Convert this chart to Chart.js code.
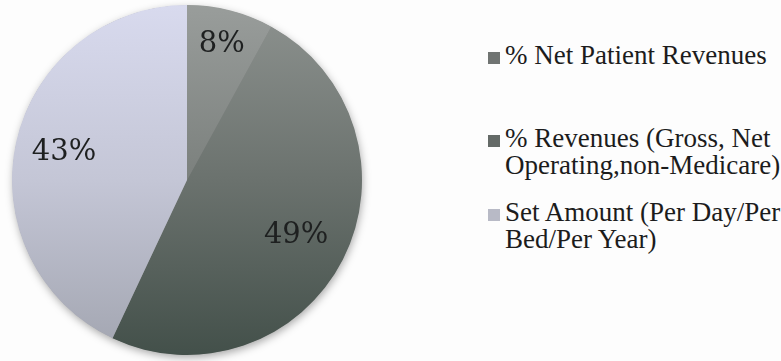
<!DOCTYPE html>
<html>
<head>
<meta charset="utf-8">
<script src="https://cdn.jsdelivr.net/npm/chart.js@4"></script>
<style>
  html, body { margin: 0; padding: 0; background: #fdfdfd; }
  #wrap { position: relative; width: 781px; height: 361px; overflow: hidden; }
  #pieBox { position: absolute; left: 0; top: 0; width: 374px; height: 361px; }
  .lg { position: absolute; left: 488px; font-family: "Liberation Serif", "Times New Roman", serif;
        font-size: 27px; line-height: 27px; color: #1c1c1c; white-space: nowrap; }
  .lg .sw { position: absolute; left: 0; width: 12px; height: 12px; }
  .lg .tx { position: absolute; left: 17px; top: 0; }
</style>
</head>
<body>
<div id="wrap">
  <div id="pieBox"><canvas id="pie"></canvas></div>
  <div id="legend"></div>
</div>
<script>
// Payment basis shares
const categories = [
  "% Net Patient Revenues",
  "% Revenues (Gross, Net\nOperating,non-Medicare)",
  "Set Amount (Per Day/Per\nBed/Per Year)"
];
const shares = [8, 49, 43];
const sliceLabels = ["8%", "49%", "43%"];

// shading stops per slice (top -> bottom)
const sliceShades = [
  ["#999d9b", "#7b807d", "#5c625e"],
  ["#8d928f", "#6b726e", "#43504a"],
  ["#d8daee", "#c4c6d6", "#a2a5b0"]
];
const swatchColors = ["#707472", "#646a67", "#b8bac6"];
const legendTops = [42, 125, 199];

function shade(ctx) {
  const chart = ctx.chart;
  const area = chart.chartArea;
  const stops = sliceShades[ctx.dataIndex];
  if (!area) return stops[1];
  const g = chart.ctx.createLinearGradient(0, area.top, 0, area.bottom);
  g.addColorStop(0, stops[0]);
  g.addColorStop(0.5, stops[1]);
  g.addColorStop(1, stops[2]);
  return g;
}

// soft shadow under the whole disc
const discShadow = {
  id: 'discShadow',
  beforeDatasetsDraw(chart) {
    const arc = chart.getDatasetMeta(0).data[0];
    if (!arc) return;
    const c = chart.ctx;
    c.save();
    c.shadowColor = 'rgba(0,0,0,0.35)';
    c.shadowBlur = 9;
    c.shadowOffsetX = 1;
    c.shadowOffsetY = 3;
    c.fillStyle = '#888';
    c.beginPath();
    c.arc(arc.x, arc.y, arc.outerRadius - 0.5, 0, Math.PI * 2);
    c.fill();
    c.restore();
  }
};

// percentage text placed inside each slice
const sliceText = {
  id: 'sliceText',
  afterDatasetsDraw(chart, args, opts) {
    const c = chart.ctx;
    const meta = chart.getDatasetMeta(0);
    c.save();
    c.font = opts.font;
    c.fillStyle = opts.color;
    c.textAlign = 'center';
    c.textBaseline = 'middle';
    meta.data.forEach((arc, i) => {
      const mid = (arc.startAngle + arc.endAngle) / 2;
      const r = arc.outerRadius * opts.radial[i];
      c.fillText(sliceLabels[i], arc.x + Math.cos(mid) * r, arc.y + Math.sin(mid) * r);
    });
    c.restore();
  }
};

new Chart(document.getElementById('pie'), {
  type: 'pie',
  data: {
    labels: categories,
    datasets: [{
      data: shares,
      backgroundColor: shade,
      borderWidth: 0
    }]
  },
  options: {
    responsive: true,
    maintainAspectRatio: false,
    animation: false,
    layout: { padding: { top: 5, bottom: 6, left: 0, right: 0 } },
    plugins: {
      legend: { display: false },
      tooltip: { enabled: false },
      sliceText: { font: '29px "DejaVu Serif", serif', color: '#1e2020', radial: [0.8, 0.7, 0.72] }
    }
  },
  plugins: [discShadow, sliceText]
});

// legend on the right
const legend = document.getElementById('legend');
categories.forEach((name, i) => {
  const item = document.createElement('div');
  item.className = 'lg';
  item.style.top = legendTops[i] + 'px';
  const sw = document.createElement('div');
  sw.className = 'sw';
  sw.style.background = swatchColors[i];
  sw.style.top = '10px';
  const tx = document.createElement('div');
  tx.className = 'tx';
  tx.innerHTML = name.split('\n').join('<br>');
  item.appendChild(sw);
  item.appendChild(tx);
  legend.appendChild(item);
});
</script>
</body>
</html>
